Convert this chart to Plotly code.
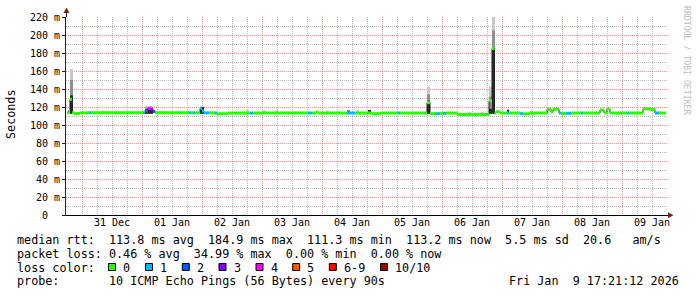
import pandas as pd
import plotly.graph_objects as go

# ---------------- data ----------------
seg_start = [
    "2025-12-30 18:00", "2025-12-30 18:48", "2025-12-30 19:12", "2025-12-30 20:00",
    "2025-12-30 20:48", "2025-12-30 23:12", "2025-12-31 02:48", "2025-12-31 03:36",
    "2026-01-01 00:24", "2026-01-01 01:12", "2026-01-01 02:24", "2026-01-01 03:36",
    "2026-01-01 04:24", "2026-01-01 05:12", "2026-01-01 18:48", "2026-01-01 19:36",
    "2026-01-01 20:24", "2026-01-01 21:12", "2026-01-01 23:12", "2026-01-02 00:00",
    "2026-01-02 00:48", "2026-01-02 02:48", "2026-01-02 05:12", "2026-01-02 06:00",
    "2026-01-02 10:24", "2026-01-02 19:12", "2026-01-02 20:24", "2026-01-03 18:24",
    "2026-01-03 20:00", "2026-01-03 21:36", "2026-01-03 22:24", "2026-01-04 10:00",
    "2026-01-04 13:12", "2026-01-04 20:00", "2026-01-04 23:36", "2026-01-05 06:24",
    "2026-01-05 07:12", "2026-01-05 18:00", "2026-01-05 19:12", "2026-01-05 21:12",
    "2026-01-05 23:12", "2026-01-06 00:24", "2026-01-06 01:36", "2026-01-06 06:00",
    "2026-01-06 18:48", "2026-01-06 20:00", "2026-01-06 21:00", "2026-01-06 21:36",
    "2026-01-06 23:12", "2026-01-07 02:00", "2026-01-07 02:48", "2026-01-07 07:12",
    "2026-01-07 08:24", "2026-01-07 11:12", "2026-01-07 18:00", "2026-01-07 19:36",
    "2026-01-07 20:24", "2026-01-07 22:48", "2026-01-07 23:36", "2026-01-08 01:36",
    "2026-01-08 03:36", "2026-01-08 07:36", "2026-01-08 08:24", "2026-01-08 15:12",
    "2026-01-08 16:48", "2026-01-08 18:00", "2026-01-08 19:12", "2026-01-09 02:00",
    "2026-01-09 02:48", "2026-01-09 08:24", "2026-01-09 11:12", "2026-01-09 13:12",
    "2026-01-09 14:48",
]
seg_median = [
    113.5, 116.5, 128.5, 113.5,
    112.8, 113.5, 113.5, 113.5,
    114.0, 116.0, 118.5, 117.5,
    115.0, 113.5, 113.5, 113.5,
    113.5, 113.5, 118.5, 115.5,
    113.5, 113.5, 113.3, 112.5,
    113.3, 113.3, 113.3, 113.3,
    113.3, 114.5, 113.3, 113.3,
    113.3, 112.6, 113.3, 113.3,
    113.3, 124.8, 112.6, 112.6,
    113.0, 113.0, 113.3, 111.7,
    127.0, 184.9, 113.3, 114.8,
    113.3, 113.3, 113.3, 112.6,
    112.4, 113.3, 117.5, 114.5,
    117.5, 113.3, 112.8, 113.0,
    113.3, 113.3, 113.3, 116.7,
    113.7, 117.9, 113.3, 113.3,
    113.3, 118.0, 117.2, 113.3,
    113.3,
]
seg_loss = [
    0, 0, 0, 0,
    0, 0, 1, 0,
    1, 2, 4, 3,
    2, 0, 1, 0,
    1, 0, 1, 1,
    1, 0, 1, 0,
    0, 1, 0, 1,
    0, 0, 0, 1,
    0, 0, 0, 1,
    0, 0, 0, 1,
    0, 1, 0, 0,
    0, 0, 0, 0,
    0, 1, 0, 1,
    0, 0, 0, 0,
    0, 1, 0, 1,
    0, 1, 0, 0,
    0, 0, 0, 1,
    0, 0, 0, 1,
    0,
]
data_end = "2026-01-09 17:36"

# smoke (ping spread) blocks
smoke_start = [
    "2025-12-30 19:12", "2025-12-31 07:36", "2026-01-01 01:12", "2026-01-01 23:12",
    "2026-01-02 17:36", "2026-01-03 00:24", "2026-01-03 05:12", "2026-01-04 01:36",
    "2026-01-04 10:00", "2026-01-04 13:36", "2026-01-04 18:24", "2026-01-05 18:00",
    "2026-01-06 10:24", "2026-01-06 15:36", "2026-01-06 18:48", "2026-01-06 20:00",
    "2026-01-07 02:00", "2026-01-07 11:12", "2026-01-09 14:48",
]
smoke_end = [
    "2025-12-30 20:24", "2025-12-31 08:48", "2026-01-01 04:24", "2026-01-02 00:48",
    "2026-01-02 18:48", "2026-01-03 01:36", "2026-01-03 06:24", "2026-01-04 02:48",
    "2026-01-04 11:12", "2026-01-04 14:48", "2026-01-04 19:36", "2026-01-05 19:12",
    "2026-01-06 11:36", "2026-01-06 16:48", "2026-01-06 20:00", "2026-01-06 21:12",
    "2026-01-07 02:48", "2026-01-07 12:24", "2026-01-09 15:36",
]
smoke_lo = [112.5] * 19
smoke_inner = [133.0, 112.5, 117.5, 120.0, 112.5, 112.5, 112.5, 112.5, 115.0, 112.5,
               116.7, 127.0, 112.5, 112.5, 118.0, 185.0, 117.0, 112.5, 112.5]
smoke_mid = [150.0, 112.5, 119.5, 120.0, 112.5, 112.5, 112.5, 112.5, 116.5, 112.5,
             116.7, 134.0, 112.5, 112.5, 131.5, 205.0, 117.0, 112.5, 112.5]
smoke_outer = [162.0, 116.0, 121.0, 120.5, 116.5, 116.5, 116.5, 116.0, 117.0, 116.5,
               116.7, 142.6, 114.5, 114.5, 142.6, 222.0, 117.0, 115.6, 115.6]

loss_labels = ["0", "1", "2", "3", "4", "5", "6-9", "10/10"]
loss_colors = ["#26ff00", "#00b8ff", "#0059ff", "#7e00ff", "#ff00ff", "#ff5500", "#ff0000", "#a10000"]

y_tick_vals = [0, 20, 40, 60, 80, 100, 120, 140, 160, 180, 200, 220]
y_tick_text = ["0\u00a0\u00a0", "20 m", "40 m", "60 m", "80 m", "100 m", "120 m",
               "140 m", "160 m", "180 m", "200 m", "220 m"]
y_minor_vals = [10, 30, 50, 70, 90, 110, 130, 150, 170, 190, 210]

x_tick_text = ["31 Dec", "01 Jan", "02 Jan", "03 Jan", "04 Jan", "05 Jan",
               "06 Jan", "07 Jan", "08 Jan", "09 Jan"]
x_range = ["2025-12-30 17:36", "2026-01-09 18:24"]

legend_line1 = "median rtt:  113.8 ms avg  184.9 ms max  111.3 ms min  113.2 ms now  5.5 ms sd  20.6   am/s"
legend_line2 = "packet loss: 0.46 % avg  34.99 % max  0.00 % min  0.00 % now"
legend_line4 = "probe:       10 ICMP Echo Pings (56 Bytes) every 90s"
legend_date = "Fri Jan  9 17:21:12 2026"

# ---------------- helpers ----------------
W, H = 697, 297
PL, PR, PT, PB = 66, 668, 17, 215
MONO = "DejaVu Sans Mono"


def fx(px):
    return (px - PL) / (PR - PL)


def fy(py):
    return (PB - py) / (PB - PT)


def nb(s):
    return s.replace(" ", "\u00a0")


def loss_cat(n):
    if n <= 5:
        return n
    if n < 10:
        return 6
    return 7


starts = pd.to_datetime(seg_start)
ends = list(starts[1:]) + [pd.Timestamp(data_end)]

fig = go.Figure()

# smoke
s0 = pd.to_datetime(smoke_start)
s1 = pd.to_datetime(smoke_end)
centers = s0 + (s1 - s0) / 2
widths = [(b - a).total_seconds() * 1000 for a, b in zip(s0, s1)]
for hi, col in [(smoke_outer, "#c8c8c8"), (smoke_mid, "#8e8e8e"), (smoke_inner, "#2a2a2a")]:
    fig.add_trace(go.Bar(
        x=centers, y=[h - l for h, l in zip(hi, smoke_lo)], base=smoke_lo,
        width=widths, marker=dict(color=col, line=dict(width=0)),
        showlegend=False, hoverinfo="skip"))

# thin dark step line (transitions)
fig.add_trace(go.Scatter(
    x=list(starts) + [pd.Timestamp(data_end)], y=seg_median + [seg_median[-1]],
    mode="lines", line=dict(color="#1e1e1e", width=1, shape="hv"),
    showlegend=False, hoverinfo="skip"))

# median coloured by loss
for ci, col in enumerate(loss_colors):
    xs, ys = [], []
    for a, b, v, l in zip(starts, ends, seg_median, seg_loss):
        if loss_cat(l) == ci:
            xs += [a, b, None]
            ys += [v, v, None]
    if xs:
        fig.add_trace(go.Scatter(x=xs, y=ys, mode="lines",
                                 line=dict(color=col, width=3),
                                 showlegend=False, hoverinfo="skip"))

# dummy trace so the label axis exists
noon = pd.date_range("2025-12-31 12:00", periods=len(x_tick_text), freq="D")
fig.add_trace(go.Scatter(x=[noon[0]], y=[None], xaxis="x2", mode="markers",
                         showlegend=False, hoverinfo="skip"))

midnights = pd.date_range("2025-12-31", "2026-01-09", freq="D")
six = [t for t in pd.date_range("2025-12-30 18:00", "2026-01-09 18:00", freq="6h") if t.hour != 0]

RED = "rgba(222,79,79,0.6)"
GREY = "rgba(143,143,143,0.6)"
DASH = "1px,1px"

fig.update_layout(
    width=W, height=H,
    margin=dict(l=PL, r=W - PR, t=PT, b=H - PB, pad=0),
    paper_bgcolor="white", plot_bgcolor="white",
    barmode="overlay", showlegend=False,
    font=dict(family=MONO, size=10, color="black"),
    xaxis=dict(type="date", range=x_range, tickmode="array", tickvals=midnights,
               showticklabels=False, ticks="", showgrid=True, gridcolor=RED,
               griddash=DASH, gridwidth=1, showline=True, linecolor="black",
               linewidth=1, zeroline=False,
               minor=dict(tickmode="array", tickvals=six, showgrid=True,
                          gridcolor=GREY, griddash=DASH, gridwidth=1, ticks="")),
    xaxis2=dict(type="date", range=x_range, overlaying="x", anchor="y", side="bottom",
                tickmode="array", tickvals=noon, ticktext=x_tick_text,
                showgrid=False, showline=False, ticks="", zeroline=False,
                tickfont=dict(family=MONO, size=10, color="black")),
    yaxis=dict(range=[0, 220], tickmode="array", tickvals=y_tick_vals,
               ticktext=y_tick_text, showgrid=True, gridcolor=RED, griddash=DASH,
               gridwidth=1, ticks="outside", ticklen=3, tickcolor="#1f1f1f",
               showline=True, linecolor="#1f1f1f", linewidth=1, zeroline=False,
               tickfont=dict(family=MONO, size=10, color="black"),
               minor=dict(tickmode="array", tickvals=y_minor_vals, showgrid=True,
                          gridcolor=GREY, griddash=DASH, gridwidth=1, ticks="")),
)

shapes = []
ARROW = "#7f1f1f"
# axis extension and arrows
shapes.append(dict(type="line", xref="paper", yref="paper", x0=fx(66.5), x1=fx(66.5),
                   y0=fy(PT), y1=fy(12), line=dict(color="#1f1f1f", width=1)))
shapes.append(dict(type="path", xref="paper", yref="paper",
                   path=f"M {fx(63.5)} {fy(13)} L {fx(69.5)} {fy(13)} L {fx(66.5)} {fy(7.5)} Z",
                   fillcolor=ARROW, line=dict(width=0)))
shapes.append(dict(type="path", xref="paper", yref="paper",
                   path=f"M {fx(668)} {fy(212.3)} L {fx(668)} {fy(218.3)} L {fx(673.5)} {fy(215.3)} Z",
                   fillcolor=ARROW, line=dict(width=0)))

annotations = []


def txt(px, py, s, size=11.75, anchor="left", color="black", angle=0):
    annotations.append(dict(xref="paper", yref="paper", x=fx(px), y=fy(py),
                            text=nb(s), showarrow=False, xanchor=anchor, yanchor="middle",
                            borderpad=0, textangle=angle,
                            font=dict(family=MONO, size=size, color=color)))


txt(16, 240.3, legend_line1)
txt(16, 254.3, legend_line2)
txt(16, 267.8, "loss color:")
box_x = [108.5, 145.5, 182.3, 219.0, 256.0, 292.7, 329.3, 380.5]
for bx, lab, col in zip(box_x, loss_labels, loss_colors):
    shapes.append(dict(type="rect", xref="paper", yref="paper",
                       x0=fx(bx), x1=fx(bx + 7), y0=fy(270.5), y1=fy(263.5),
                       fillcolor=col, line=dict(color="black", width=1)))
    txt(bx + 13.7, 267.8, lab)
txt(16, 281.3, legend_line4)
txt(680, 281.3, legend_date, anchor="right")

# y title and watermark
annotations.append(dict(xref="paper", yref="paper", x=fx(11), y=fy(114), text="Seconds",
                        showarrow=False, textangle=-90, xanchor="center", yanchor="middle",
                        font=dict(family=MONO, size=11.75, color="black")))
annotations.append(dict(xref="paper", yref="paper", x=fx(687), y=fy(60),
                        text=nb("RRDTOOL / TOBI OETIKER"), showarrow=False, textangle=90,
                        xanchor="center", yanchor="middle",
                        font=dict(family=MONO, size=8.2, color="#bdbdbd")))

fig.update_layout(shapes=shapes, annotations=annotations)
fig.write_html("out.html")
